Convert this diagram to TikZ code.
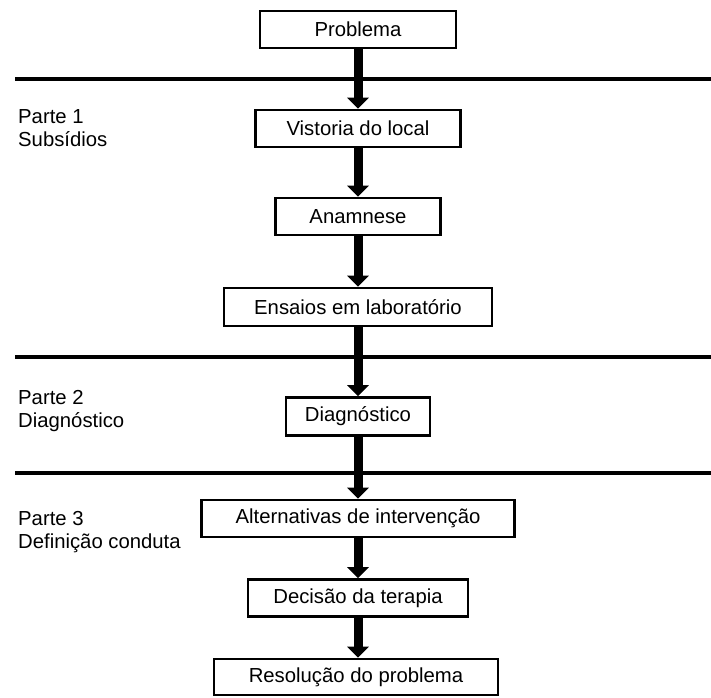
\documentclass[tikz,border=0pt]{standalone}
\usepackage{fontspec}
\setmainfont{Liberation Sans}
\usetikzlibrary{arrows.meta}
\begin{document}
\begin{tikzpicture}[x=1pt,y=-1pt,
  box/.style={draw=black,line width=2.6pt,fill=white,inner sep=0pt,minimum height=37pt,font=\fontsize{20.3}{24}\selectfont},
  flow/.style={line width=9pt,-{Triangle[width=21pt,length=11pt]}},
  sep/.style={line width=4pt},
  side/.style={anchor=base west,inner sep=0pt,font=\fontsize{20.3}{24}\selectfont}]
\useasboundingbox (0,0) rectangle (711,697);
% separator lines
\coordinate (l1a) at (15,79);  \coordinate (l1b) at (711,79);
\coordinate (l2a) at (15,357); \coordinate (l2b) at (711,357);
\coordinate (l3a) at (15,473); \coordinate (l3b) at (711,473);
\draw[sep] (l1a) -- (l1b);
\draw[sep] (l2a) -- (l2b);
\draw[sep] (l3a) -- (l3b);
% boxes
\node[box,minimum width=196pt] (p)  at (358,29.5) {Problema};
\node[box,minimum width=205pt] (v)  at (358,128.5) {Vistoria do local};
\node[box,minimum width=165pt] (an) at (358,216.5) {Anamnese};
\node[box,minimum width=268pt,minimum height=38pt] (e) at (358,307) {Ensaios em laboratório};
\node[box,minimum width=144pt,minimum height=38pt] (d) at (358,416.5) {Diagnóstico};
\node[box,minimum width=313pt] (al) at (358,518.5) {Alternativas de intervenção};
\node[box,minimum width=220pt] (dt) at (358,598) {Decisão da terapia};
\node[box,minimum width=284pt,minimum height=36pt] (r) at (356,677) {Resolução do problema};
% arrows
\draw[flow] (p.south) -- (v.north);
\draw[flow] (v.south) -- (an.north);
\draw[flow] (an.south) -- (e.north);
\draw[flow] (e.south) -- (d.north);
\draw[flow] (d.south) -- (al.north);
\draw[flow] (al.south) -- (dt.north);
\draw[flow] (dt.south) -- (dt.south |- r.north);
% side labels
\node[side] (s1a) at (18,123) {Parte 1};
\node[side] (s1b) at (18,146) {Subsídios};
\node[side] (s2a) at (18,404) {Parte 2};
\node[side] (s2b) at (18,427) {Diagnóstico};
\node[side] (s3a) at (18,525) {Parte 3};
\node[side] (s3b) at (18,548) {Definição conduta};
\end{tikzpicture}
\end{document}
